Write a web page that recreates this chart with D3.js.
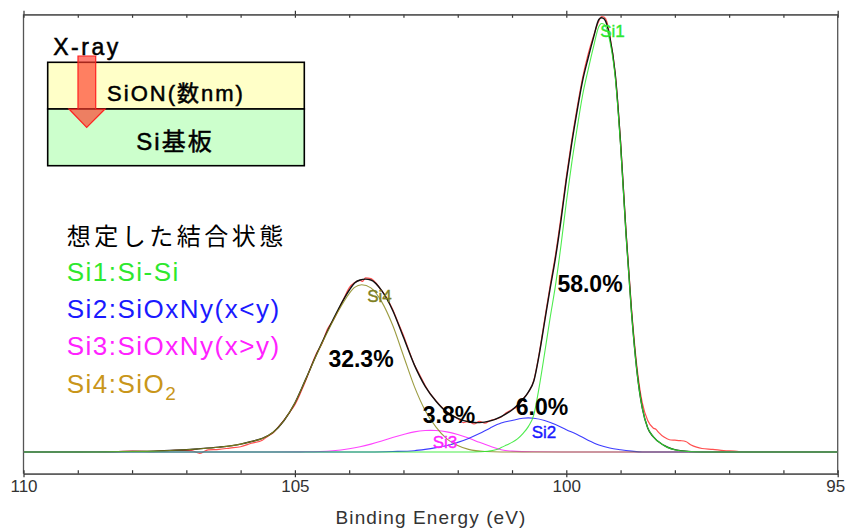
<!DOCTYPE html>
<html>
<head>
<meta charset="utf-8">
<script src="https://cdn.jsdelivr.net/npm/d3@7"></script>
<style>
  html, body { margin: 0; padding: 0; background: #fff; }
  svg { display: block; }
</style>
</head>
<body>
<svg id="chart" width="845" height="530"></svg>
<script>
// ---------------- DATA (binding energy eV, intensity a.u.) ----------------
const xTicksMajor = [110, 105, 100, 95];
const xTicksAll = [110,109,108,107,106,105,104,103,102,101,100,99,98,97,96,95];

const measured = [[110,1],[109.5,0],[109,1],[108.5,0],[108,2],[107.6,1],[107.2,4],[106.9,3],[106.75,-3],[106.6,5],[106.4,6],[106.2,9],[106.0,12],[105.8,20],[105.6,27],[105.5,36],[105.4,44],[105.3,58],[105.2,73],[105.1,90],[105.0,108],[104.9,134],[104.8,163],[104.7,196],[104.6,226],[104.5,248],[104.4,281],[104.3,300],[104.2,324],[104.1,350],[104.0,375],[103.9,387],[103.8,392],[103.75,390],[103.7,398],[103.6,396],[103.5,385],[103.4,368],[103.3,350],[103.2,326],[103.1,296],[103.0,266],[102.9,232],[102.8,200],[102.7,176],[102.6,152],[102.5,132],[102.4,117],[102.3,103],[102.2,92],[102.1,83],[102.0,76],[101.9,67],[101.8,70],[101.7,64],[101.6,70],[101.5,66],[101.4,72],[101.3,75],[101.2,80],[101.1,90],[101.0,97],[100.9,104],[100.8,121],[100.7,136],[100.6,163],[100.5,225],[100.4,302],[100.3,378],[100.2,450],[100.1,535],[100.0,628],[99.9,712],[99.8,787],[99.7,855],[99.6,908],[99.5,950],[99.4,985],[99.35,995],[99.3,993],[99.25,982],[99.2,952],[99.1,866],[99.0,708],[98.9,505],[98.8,330],[98.7,196],[98.6,112],[98.5,72],[98.4,55],[98.35,52],[98.3,45],[98.2,34],[98.1,28],[98.0,27],[97.9,26],[97.8,24],[97.7,16],[97.6,11],[97.5,8],[97.3,6],[97.1,3],[96.9,2],[96.8,1],[96.5,0],[96.2,1],[96,0],[95.5,0],[95,0]];

const envelope = [[110,0],[109,0],[108.5,0.6],[108,1.3],[107.6,2],[107.2,4],[106.8,7],[106.4,11],[106.0,18],[105.8,24],[105.6,31],[105.4,45],[105.2,72],[105.0,112],[104.8,166.5],[104.6,223.3],[104.4,276.3],[104.2,326],[104.0,369.5],[103.9,386],[103.8,393],[103.7,395],[103.6,393],[103.4,368.5],[103.2,324],[103.0,262],[102.8,199],[102.6,150],[102.4,116],[102.2,91],[102.0,77],[101.8,69],[101.6,67],[101.4,71],[101.2,81],[101.0,96],[100.8,120],[100.7,137],[100.6,161.5],[100.5,222],[100.4,297],[100.3,372],[100.2,443],[100.1,527],[100.0,621],[99.9,705],[99.8,780],[99.7,848],[99.6,899],[99.5,946],[99.4,988],[99.35,992],[99.3,989],[99.2,949],[99.1,865],[99.0,705],[98.9,500],[98.8,322],[98.7,186],[98.6,100],[98.5,55],[98.4,35],[98.2,15],[97.9,3],[97.5,0],[95,0]];

const si1 = [[110,0],[101.8,0],[101.6,0.5],[101.5,1],[101.4,2.5],[101.3,5],[101.2,10],[101.1,16],[101.0,22],[100.9,30],[100.8,42],[100.7,58],[100.6,84],[100.5,148],[100.4,225],[100.3,305],[100.2,380],[100.1,470],[100.0,570],[99.9,660],[99.8,740],[99.7,815],[99.6,872],[99.5,925],[99.4,972],[99.35,979],[99.3,977],[99.2,940],[99.1,858],[99.0,700],[98.9,497],[98.8,320],[98.7,185],[98.6,100],[98.5,55],[98.4,35],[98.2,15],[97.9,3],[97.5,0],[95,0]];

const si2 = [[110,0],[103.6,0],[103.2,1],[102.8,3],[102.6,6],[102.4,10],[102.2,15],[102.0,22],[101.8,31],[101.6,42],[101.4,55],[101.2,66],[101.0,72],[100.8,77],[100.7,78],[100.6,77],[100.4,72],[100.2,63],[100.0,51],[99.8,40],[99.6,27],[99.4,16],[99.2,9],[99.0,5],[98.8,2],[98.6,0],[95,0]];

const si3 = [[110,0],[105.5,0],[104.8,0.5],[104.3,3],[104.0,7.5],[103.8,12],[103.6,18],[103.4,25],[103.2,33],[103.0,40],[102.8,46],[102.6,49],[102.5,49.5],[102.4,49],[102.2,46],[102.0,40],[101.8,32],[101.6,22],[101.4,13],[101.2,5],[101.0,2],[100.6,0.5],[99.8,0],[95,0]];

const si4 = [[110,0],[109,0],[108.2,1],[107.6,2],[107.2,4],[106.8,7],[106.4,11],[106.0,18],[105.8,24],[105.6,31],[105.4,45],[105.2,72],[105.0,112],[104.8,166],[104.6,222],[104.4,274],[104.2,322],[104.0,362],[103.9,376],[103.77,382],[103.6,375],[103.4,343],[103.2,290],[103.0,220],[102.8,150],[102.6,95],[102.4,57],[102.2,30],[102.0,15],[101.8,6],[101.5,1],[101.2,0],[95,0]];

const percentLabels = ["58.0%", "6.0%", "3.8%", "32.3%"];
const peakNames = ["Si1", "Si2", "Si3", "Si4"];
const legendTitle = "想定した結合状態";
const legendItems = ["Si1:Si-Si", "Si2:SiOxNy(x<y)", "Si3:SiOxNy(x>y)", "Si4:SiO"];

// ---------------- LAYOUT ----------------
const svg = d3.select("#chart");
const X0 = 23.5, X1 = 837.7, YT = 14.3, YB = 473.7;
const x = d3.scaleLinear().domain([110, 95]).range([X0, X1]);
const y = d3.scaleLinear().domain([-49.6, 1000]).range([YB, YT]);

const colors = { si1: "#2ee82e", si2: "#1a1aff", si3: "#ff22ff", si4: "#8a8a1e", legend4: "#c9961a" };

// frame (left/right lines)
svg.append("line").attr("x1", X0).attr("x2", X0).attr("y1", YT).attr("y2", YB)
  .attr("stroke", "#555").attr("stroke-width", 1.3);
svg.append("line").attr("x1", X1).attr("x2", X1).attr("y1", YT).attr("y2", YB)
  .attr("stroke", "#555").attr("stroke-width", 1.3);

// axes: inner ticks for all, outer ticks + labels for majors
const gB1 = svg.append("g").attr("transform", `translate(0,${YB})`)
  .call(d3.axisBottom(x).tickValues(xTicksAll).tickSizeInner(-3.5).tickSizeOuter(0).tickFormat(""));
const gB2 = svg.append("g").attr("transform", `translate(0,${YB})`)
  .call(d3.axisBottom(x).tickValues(xTicksMajor).tickSizeInner(3.5).tickSizeOuter(0).tickPadding(3).tickFormat(d3.format("d")));
const gT1 = svg.append("g").attr("transform", `translate(0,${YT})`)
  .call(d3.axisTop(x).tickValues(xTicksAll).tickSizeInner(-3.5).tickSizeOuter(0).tickFormat(""));
const gT2 = svg.append("g").attr("transform", `translate(0,${YT})`)
  .call(d3.axisTop(x).tickValues(xTicksMajor).tickSizeInner(3.5).tickSizeOuter(0).tickFormat(""));
[gB1, gB2, gT1, gT2].forEach(g => {
  g.selectAll("path.domain").attr("stroke", "#555").attr("stroke-width", 1.3);
  g.selectAll(".tick line").attr("stroke", "#333").attr("stroke-width", 1.2);
});
gB2.selectAll(".tick text")
  .attr("font-family", "'Liberation Sans', Arial, sans-serif")
  .attr("font-size", 17).attr("fill", "#333")
  .filter(d => d === 95).attr("text-anchor", "end").attr("dx", 7);

svg.append("text").attr("x", 431).attr("y", 524).attr("text-anchor", "middle")
  .attr("font-family", "'Liberation Sans', Arial, sans-serif").attr("font-size", 19)
  .attr("letter-spacing", 1.1).attr("fill", "#333").text("Binding Energy (eV)");

// ---------------- CURVES ----------------
const line = d3.line().x(d => x(d[0])).y(d => y(d[1])).curve(d3.curveMonotoneX);

svg.append("path").datum(measured).attr("d", line).attr("fill", "none")
  .attr("stroke", "#ff3030").attr("stroke-width", 1.2).attr("stroke-opacity", 0.85);
svg.append("path").datum(envelope).attr("d", line).attr("fill", "none")
  .attr("stroke", "#111").attr("stroke-width", 1.4);

[[si3, colors.si3], [si2, colors.si2], [si4, colors.si4], [si1, colors.si1]].forEach(([d, c]) => {
  svg.append("path").datum(d).attr("d", line).attr("fill", "none")
    .attr("stroke", c).attr("stroke-width", 1.1).attr("stroke-opacity", 0.85);
});

// peak name labels
const nameFont = "'Liberation Sans', Arial, sans-serif";
const nameLabels = [
  { t: peakNames[0], x: 612.5, y: 37, c: colors.si1 },
  { t: peakNames[1], x: 544, y: 438, c: colors.si2 },
  { t: peakNames[2], x: 445, y: 448, c: colors.si3 },
  { t: peakNames[3], x: 379.5, y: 302, c: "#7f7f22" }
];
nameLabels.forEach(l => {
  svg.append("text").attr("x", l.x).attr("y", l.y).attr("text-anchor", "middle")
    .attr("font-family", nameFont).attr("font-size", 17).attr("fill", l.c)
    .attr("stroke", l.c).attr("stroke-width", 0.4).text(l.t);
});

// percentage labels
const pctPos = [[590, 292], [542, 415], [449, 423], [361, 367]];
percentLabels.forEach((t, i) => {
  svg.append("text").attr("x", pctPos[i][0]).attr("y", pctPos[i][1]).attr("text-anchor", "middle")
    .attr("font-family", nameFont).attr("font-weight", "bold").attr("font-size", 23)
    .attr("fill", "#000").text(t);
});

// ---------------- INSET (layer diagram) ----------------
const inset = svg.append("g");
inset.append("rect").attr("x", 47.7).attr("y", 62.3).attr("width", 256.6).attr("height", 46.7)
  .attr("fill", "#ffffc8").attr("stroke", "#000").attr("stroke-width", 1.6);
inset.append("rect").attr("x", 47.7).attr("y", 109).attr("width", 256.6).attr("height", 56.7)
  .attr("fill", "#ccffcc").attr("stroke", "#000").attr("stroke-width", 1.6);
const arrowPath = "M78,56 L95.7,56 L95.7,109 L105,109 L86.7,127.3 L69,109 L78,109 Z";
inset.append("path").attr("d", arrowPath).attr("fill", "#ff3a2a").attr("fill-opacity", 0.65)
  .attr("stroke", "#ff2020").attr("stroke-width", 1.2);
const insetFont = "'Liberation Sans', 'Noto Sans CJK JP', sans-serif";
inset.append("text").attr("x", 87).attr("y", 55).attr("text-anchor", "middle")
  .attr("font-family", insetFont).attr("font-size", 23).attr("letter-spacing", 2.5).attr("fill", "#000")
  .attr("stroke", "#000").attr("stroke-width", 0.5).text("X-ray");
inset.append("text").attr("x", 176).attr("y", 101).attr("text-anchor", "middle")
  .attr("font-family", insetFont).attr("font-size", 22).attr("letter-spacing", 2).attr("fill", "#000")
  .attr("stroke", "#000").attr("stroke-width", 0.5).text("SiON(数nm)");
inset.append("text").attr("x", 175).attr("y", 150).attr("text-anchor", "middle")
  .attr("font-family", insetFont).attr("font-size", 24).attr("letter-spacing", 2).attr("fill", "#000")
  .attr("stroke", "#000").attr("stroke-width", 0.5).text("Si基板");

// ---------------- LEGEND ----------------
const lg = svg.append("g");
lg.append("text").attr("x", 66.7).attr("y", 245)
  .attr("font-family", "'Noto Sans CJK JP', sans-serif").attr("font-size", 24)
  .attr("letter-spacing", 3.5).attr("fill", "#000").text(legendTitle);
const legColors = [colors.si1, colors.si2, colors.si3, colors.legend4];
const legY = [281, 318, 355, 393];
legendItems.forEach((t, i) => {
  const tx = lg.append("text").attr("x", 66.7).attr("y", legY[i])
    .attr("font-family", insetFont).attr("font-size", 26).attr("letter-spacing", 1.5)
    .attr("fill", legColors[i]).text(t);
  if (i === 3) tx.append("tspan").attr("font-size", 19).attr("dy", 7).text("2");
});
</script>
</body>
</html>
